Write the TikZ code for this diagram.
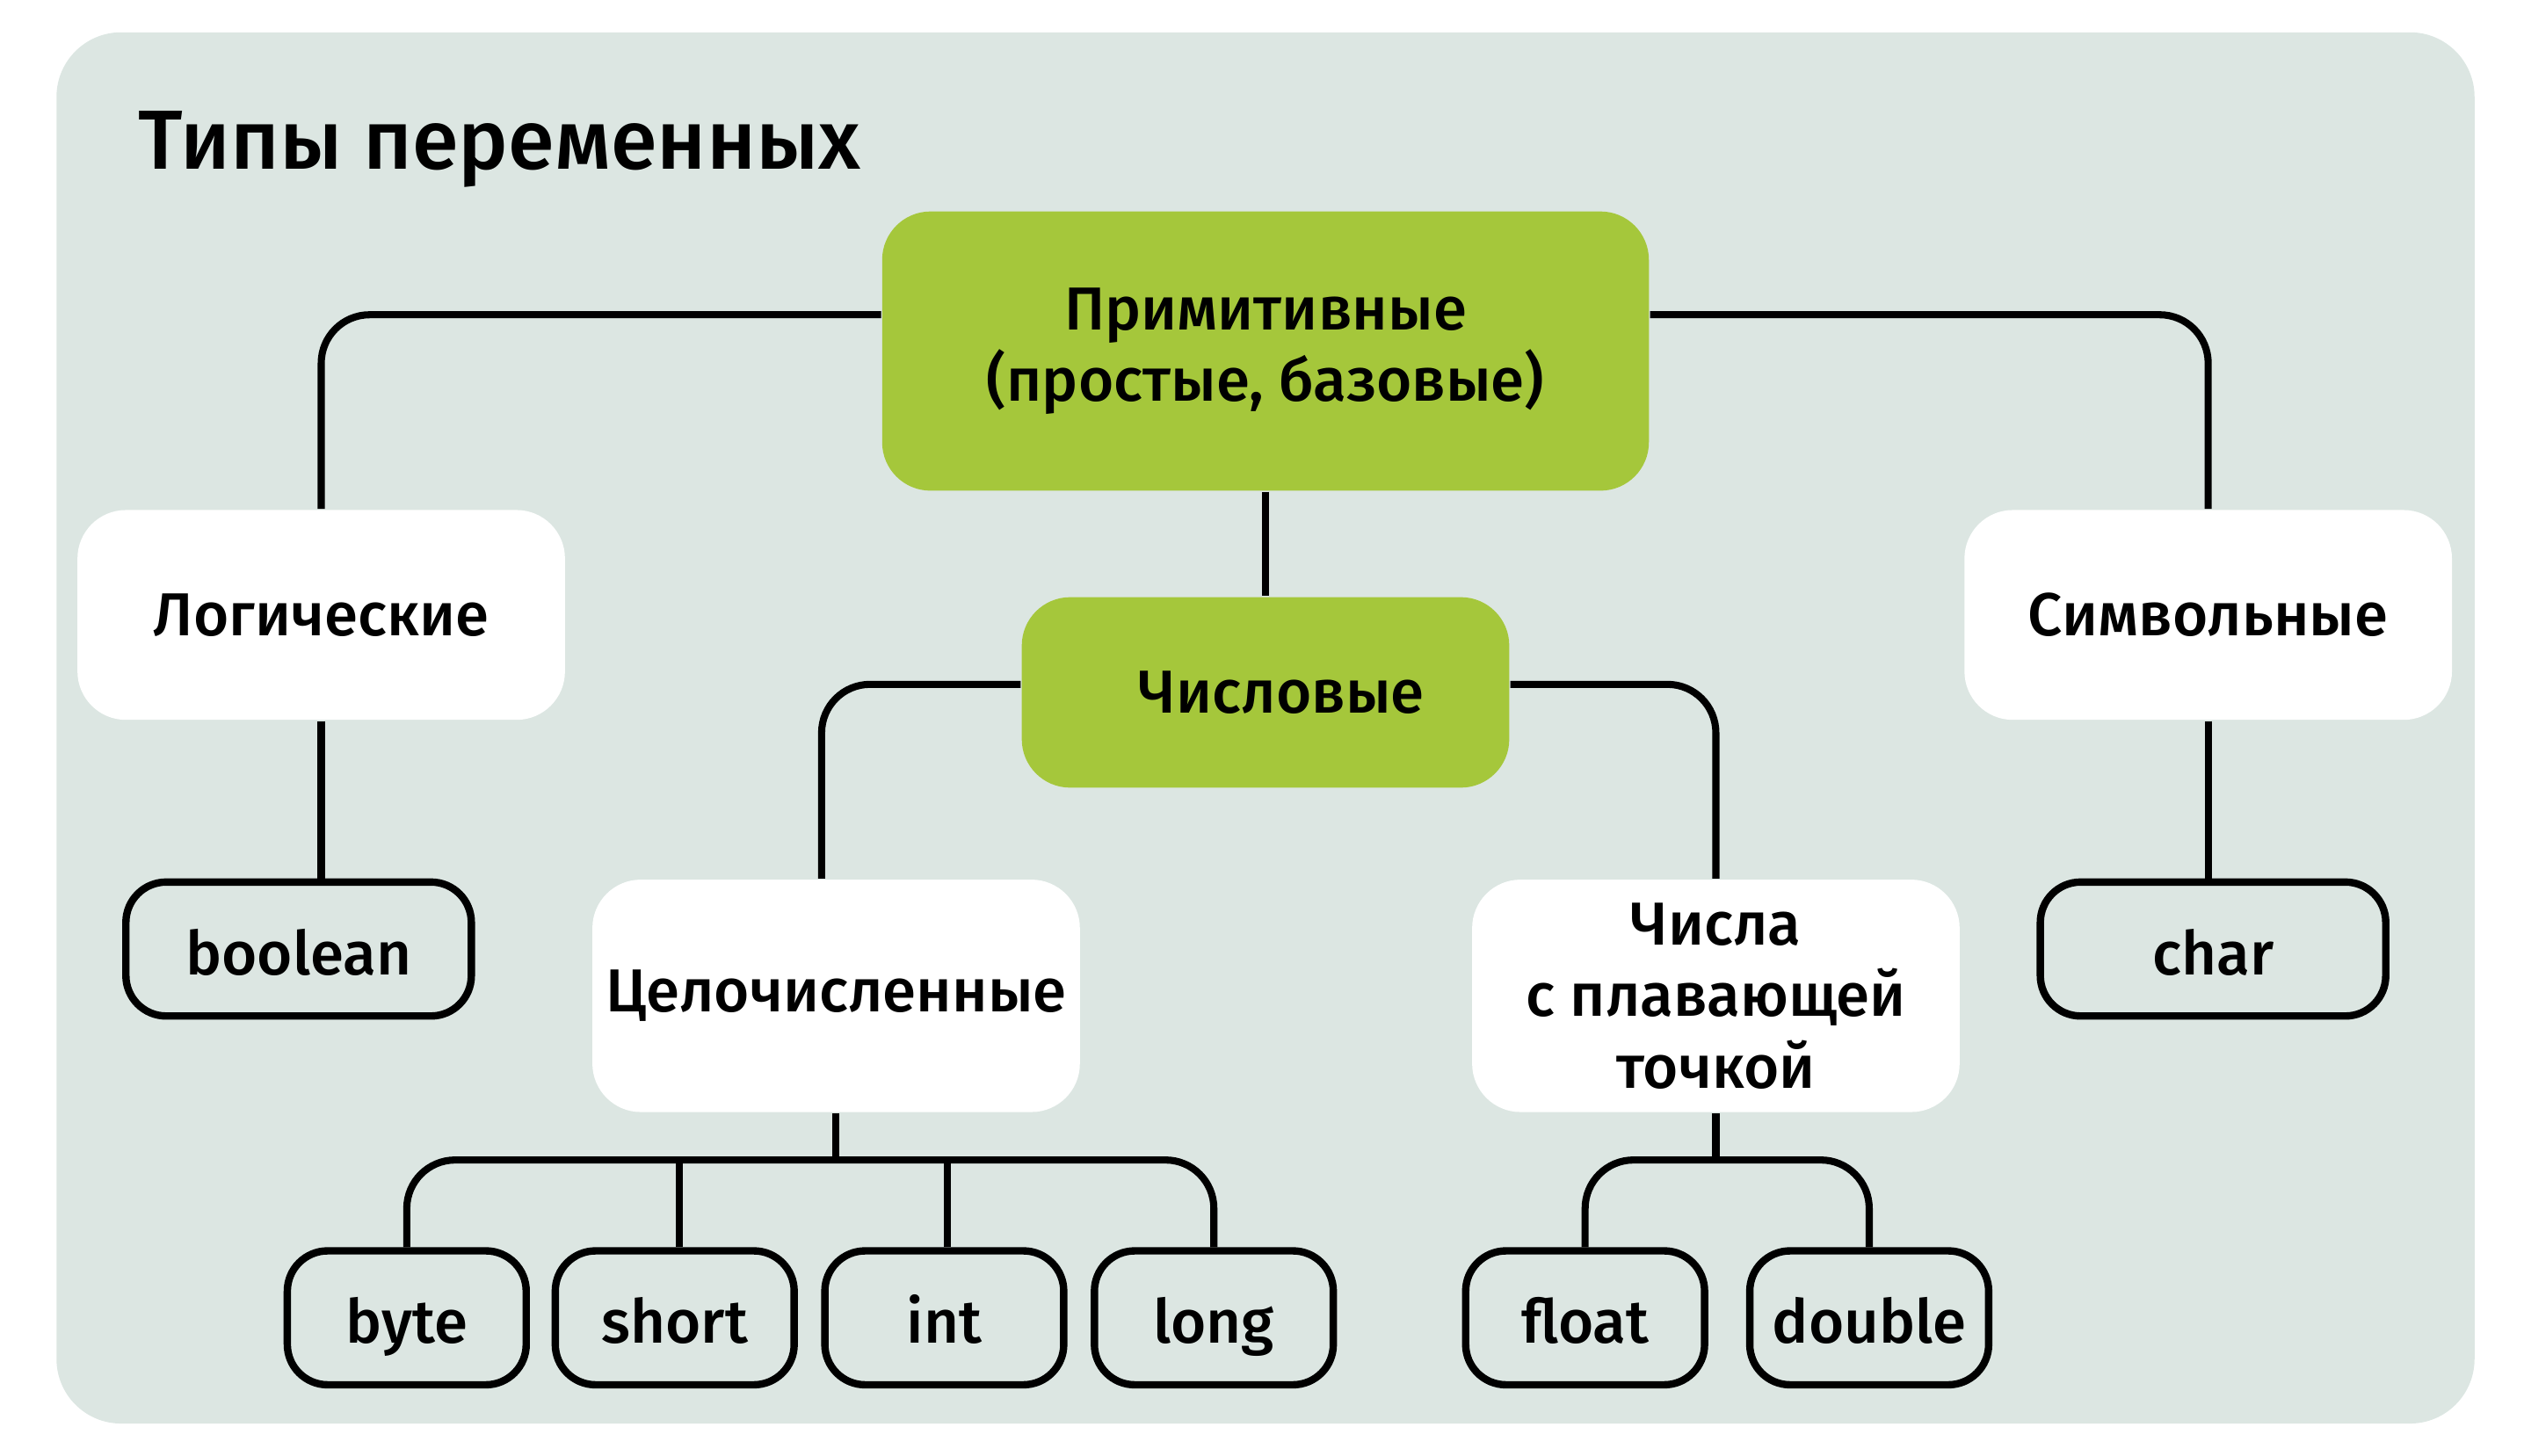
\documentclass[tikz,border=0pt]{standalone}
\usepackage{fontspec}
\setmainfont{Fira Sans}[UprightFont={* Medium}]
\usepackage{tikz}
\usetikzlibrary{positioning, calc}
\definecolor{leaf}{HTML}{A5C73B}
\definecolor{sage}{HTML}{DCE6E2}

\begin{document}
\begin{tikzpicture}[
  font=\fontsize{10.7}{12.6}\selectfont,
  greenbox/.style={fill=leaf, rounded corners=0.3cm, align=center, inner sep=0pt},
  whitebox/.style={fill=white, rounded corners=0.3cm, align=center, inner sep=0pt, minimum width=3.02cm},
  typebox/.style={draw=black, line width=1.3pt, fill=sage, rounded corners=0.25cm, minimum height=0.83cm, inner sep=0pt, text height=0.9em, text depth=0pt},
  link/.style={line width=1.25pt, rounded corners=0.3cm}]
  % Hintergrund
  \useasboundingbox (0,0) rectangle (15.68,-9.02);
  \fill[sage, rounded corners=0.4cm] (0.35,-0.2) rectangle (15.33,-8.82);
  \node[anchor=base west, inner sep=0pt, font=\fontsize{14.8}{18}\selectfont] (title) at (0.85,-1.05) {Типы переменных};

  % Obere Ebene
  \node[greenbox, minimum width=4.75cm, minimum height=1.73cm] (prim) at (7.84,-2.175) {Примитивные\\(простые, базовые)};
  \node[greenbox, minimum width=3.02cm, minimum height=1.18cm] (num) at (7.84,-4.29) {\hspace*{0.2cm}Числовые};
  \node[whitebox, minimum height=1.30cm] (logic) at (1.99,-3.81) {\raisebox{-0.4mm}{Логические}};
  \node[whitebox, minimum height=1.30cm] (symb) at (13.68,-3.81) {\raisebox{-0.4mm}{Символьные}};
  \node[whitebox, minimum height=1.44cm] (intg) at (5.18,-6.17) {Целочисленные};
  \node[whitebox, minimum height=1.44cm] (fpoint) at (10.63,-6.17) {Числа\\с плавающей\\точкой};

  % Typen
  \node[typebox, minimum width=2.14cm] (bool) at (1.85,-5.88) {boolean};
  \node[typebox, minimum width=2.14cm] (char) at (13.71,-5.88) {char};
  \node[typebox, minimum width=1.48cm] (byte) at (2.52,-8.165) {byte};
  \node[typebox, minimum width=1.48cm] (short) at (4.18,-8.165) {short};
  \node[typebox, minimum width=1.48cm] (int) at (5.85,-8.165) {int};
  \node[typebox, minimum width=1.48cm] (long) at (7.52,-8.165) {long};
  \node[typebox, minimum width=1.48cm] (float) at (9.82,-8.165) {float};
  \node[typebox, minimum width=1.48cm] (double) at (11.58,-8.165) {double};

  % Verbindungen
  \draw[link] ([yshift=2.25mm]prim.west) -| (logic.north);
  \draw[link] ([yshift=2.25mm]prim.east) -| (symb.north);
  \draw[link] (prim.south) -- (num.north);
  \draw[link] ([yshift=0.5mm]num.west) -| ([xshift=-0.9mm]intg.north);
  \draw[link] ([yshift=0.5mm]num.east) -| (fpoint.north);
  \draw[link] (logic.south) -- (logic.south |- bool.north);
  \draw[link] (symb.south) -- (symb.south |- char.north);

  \coordinate[below=0.29cm of intg.south] (ibus);
  \draw[link] (intg.south) -- (ibus);
  \draw[link] (byte.north) -- (byte.north |- ibus) -- (long.north |- ibus) -- (long.north);
  \draw[link] ([xshift=0.3mm]short.north) -- ([xshift=0.3mm]short.north |- ibus);
  \draw[link] ([xshift=0.2mm]int.north) -- ([xshift=0.2mm]int.north |- ibus);

  \coordinate[below=0.29cm of fpoint.south] (fbus);
  \draw[link] (fpoint.south) -- (fbus);
  \draw[link] (float.north) -- (float.north |- fbus) -- (double.north |- fbus) -- (double.north);
\end{tikzpicture}
\end{document}
